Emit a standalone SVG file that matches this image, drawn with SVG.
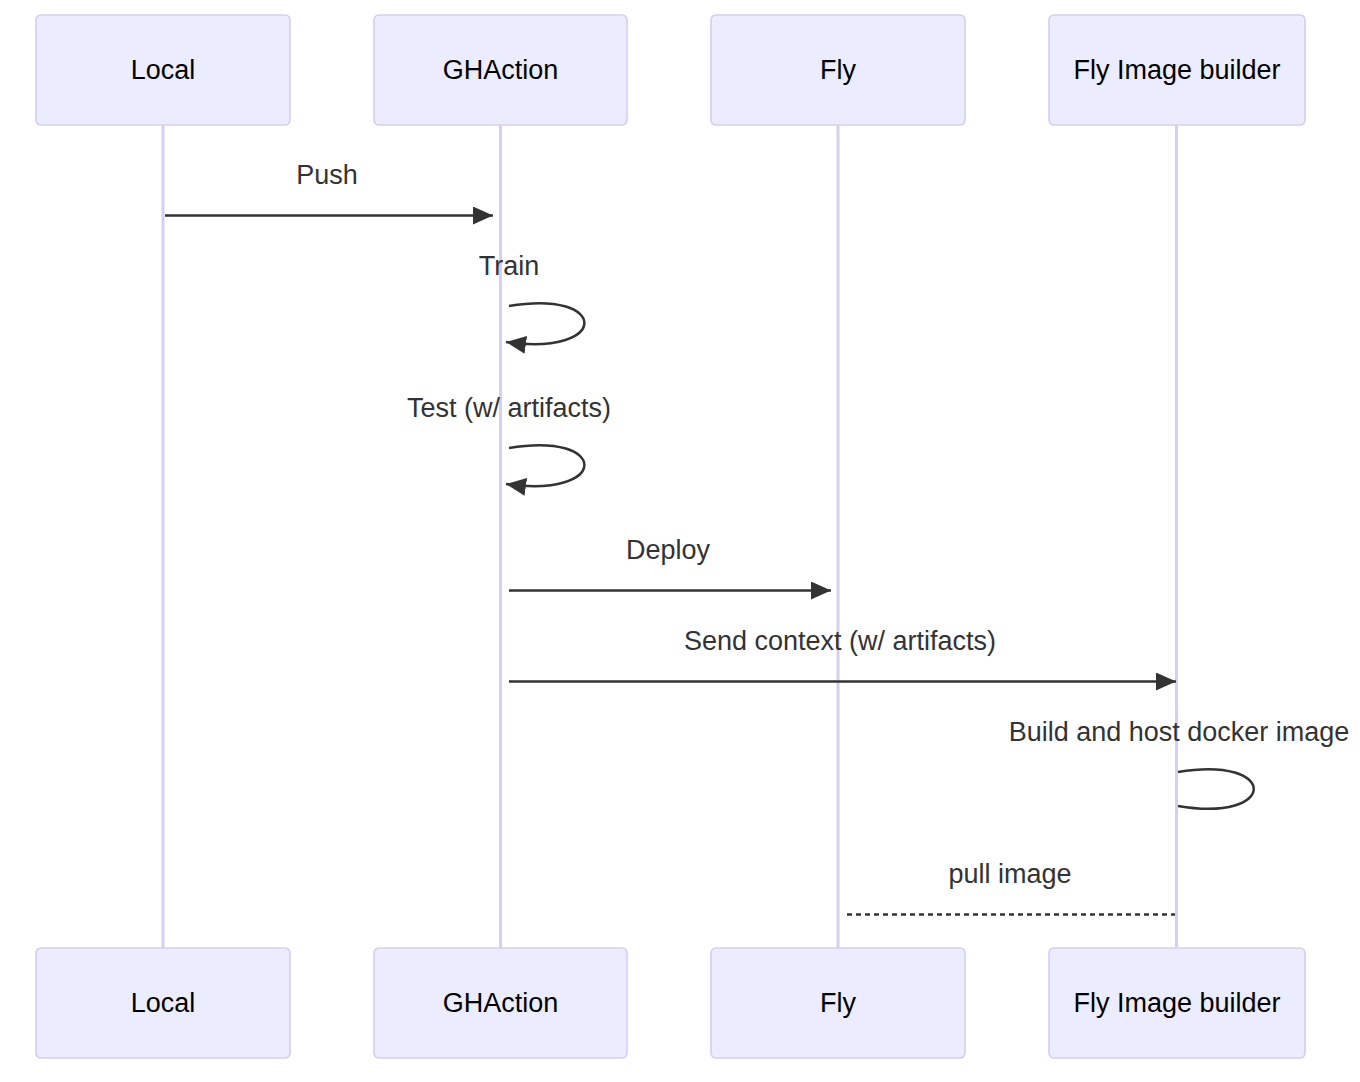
<svg xmlns="http://www.w3.org/2000/svg" width="1360" height="1082" viewBox="0 0 1360 1082">
<style>
.actor{fill:#ECECFF;stroke:#D6CFF2;stroke-width:1.7}
.atext{font-family:"Liberation Sans",Arial,sans-serif;font-size:27px;fill:#000;text-anchor:middle}
.mtext{font-family:"Liberation Sans",Arial,sans-serif;font-size:27px;fill:#333;text-anchor:middle}
.life{stroke:#D6CFF2;stroke-width:3;fill:none}
.msg{stroke:#333;stroke-width:2.5;fill:none}
.dash{stroke-dasharray:5,4}
</style>
<defs>
<marker id="arrow" markerUnits="userSpaceOnUse" markerWidth="22" markerHeight="20" refX="20" refY="9" orient="auto">
<path d="M0,0 L20,9 L0,18 z" fill="#333"/>
</marker>
</defs>
<g id="lifelines">
<line class="life" x1="163" y1="125" x2="163" y2="948"/>
<line class="life" x1="500.5" y1="125" x2="500.5" y2="948"/>
<line class="life" x1="838" y1="125" x2="838" y2="948"/>
<line class="life" x1="1176.5" y1="125" x2="1176.5" y2="948"/>
</g>
<g id="actor-local-top"><rect class="actor" x="36" y="15" width="254" height="110" rx="5"/><text class="atext" x="163" y="78.5">Local</text></g>
<g id="actor-ghaction-top"><rect class="actor" x="374" y="15" width="253" height="110" rx="5"/><text class="atext" x="500.5" y="78.5">GHAction</text></g>
<g id="actor-fly-top"><rect class="actor" x="711" y="15" width="254" height="110" rx="5"/><text class="atext" x="838" y="78.5">Fly</text></g>
<g id="actor-builder-top"><rect class="actor" x="1049" y="15" width="256" height="110" rx="5"/><text class="atext" x="1177" y="78.5">Fly Image builder</text></g>
<g id="actor-local-bottom"><rect class="actor" x="36" y="948" width="254" height="110" rx="5"/><text class="atext" x="163" y="1011.5">Local</text></g>
<g id="actor-ghaction-bottom"><rect class="actor" x="374" y="948" width="253" height="110" rx="5"/><text class="atext" x="500.5" y="1011.5">GHAction</text></g>
<g id="actor-fly-bottom"><rect class="actor" x="711" y="948" width="254" height="110" rx="5"/><text class="atext" x="838" y="1011.5">Fly</text></g>
<g id="actor-builder-bottom"><rect class="actor" x="1049" y="948" width="256" height="110" rx="5"/><text class="atext" x="1177" y="1011.5">Fly Image builder</text></g>
<g id="messages">
<text class="mtext" x="327" y="184">Push</text>
<line class="msg" x1="165" y1="215.5" x2="493" y2="215.5" marker-end="url(#arrow)"/>
<text class="mtext" x="509" y="275">Train</text>
<path class="msg" d="M509,306 C610,289 610,357 506,342" marker-end="url(#arrow)"/>
<text class="mtext" x="509" y="417">Test (w/ artifacts)</text>
<path class="msg" d="M509,448 C610,431 610,499 506,484" marker-end="url(#arrow)"/>
<text class="mtext" x="668" y="559">Deploy</text>
<line class="msg" x1="509" y1="590.5" x2="831" y2="590.5" marker-end="url(#arrow)"/>
<text class="mtext" x="840" y="650">Send context (w/ artifacts)</text>
<line class="msg" x1="509" y1="681.5" x2="1176" y2="681.5" marker-end="url(#arrow)"/>
<text class="mtext" x="1179" y="741">Build and host docker image</text>
<path class="msg" d="M1178,772 C1279,755 1279,823 1178,806"/>
<text class="mtext" x="1010" y="883">pull image</text>
<line class="msg dash" x1="847" y1="914.5" x2="1175" y2="914.5"/>
</g>
</svg>
